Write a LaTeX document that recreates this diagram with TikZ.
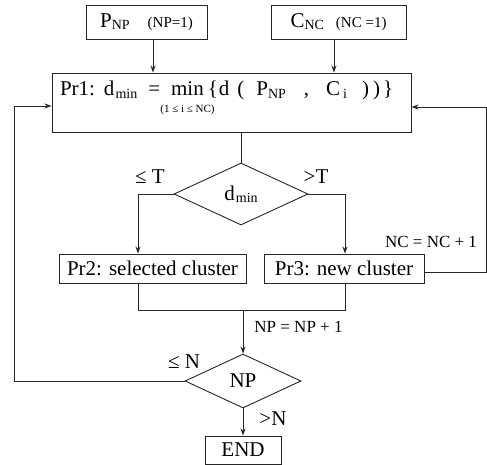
\documentclass[tikz,border=0pt]{standalone}
\usepackage{fontspec}
\setmainfont{Liberation Serif}
\usetikzlibrary{shapes.geometric,arrows.meta,calc}

% text sizes
\newcommand\bigtxt{\fontsize{21}{23}\selectfont}
\newcommand\midtxt{\fontsize{15}{17}\selectfont}
\newcommand\eqtxt{\fontsize{17}{19}\selectfont}
\newcommand\limtxt{\fontsize{11}{12}\selectfont}
% lowered, smaller index text
\newcommand\lowsub[1]{\raisebox{-2.5pt}{\fontsize{14}{14}\selectfont #1}}
% "min" with its range set underneath
\newcommand\minrange{\begin{tabular}[t]{@{}c@{}}min\\[-6pt]\makebox[0pt]{\limtxt(1 ≤ i ≤ NC)}\end{tabular}}

\begin{document}
\begin{tikzpicture}[x=1pt,y=-1pt,
  lineclr/.style={draw=black!85},
  box/.style={lineclr, rectangle, inner sep=0pt, line width=0.9pt, font=\bigtxt},
  decide/.style={lineclr, diamond, inner sep=0pt, line width=0.9pt, font=\bigtxt},
  link/.style={lineclr, line width=0.9pt},
  arr/.style={link, -{Stealth[length=7pt,width=5pt]}},
  lbl/.style={inner sep=0pt, font=\bigtxt},
  eqlbl/.style={inner sep=0pt, font=\eqtxt}]
\useasboundingbox (0,0) rectangle (487,465);

% boxes and decisions
\node[box, minimum width=121pt, minimum height=34pt] (pnp) at (146.5,22)
  {P\lowsub{NP}\hspace{18pt}{\midtxt(NP=1)}};
\node[box, minimum width=135pt, minimum height=34pt] (cnc) at (338.5,22)
  {C\lowsub{NC}\hspace{12pt}{\midtxt(NC =1)}};
\node[box, inner xsep=8pt, text height=23pt, text depth=36pt] (pr1) at (231.5,102.5)
  {\makebox[343pt][l]{Pr1:\hspace{9pt}d\hspace{1pt}\lowsub{min}\hspace{11pt}=\hspace{11pt}\minrange\hspace{4pt}\{\hspace{1pt}d\hspace{8pt}(\hspace{12pt}P\lowsub{NP}\hspace{18pt},\hspace{17pt}C\hspace{3pt}\lowsub{i}\hspace{15pt})\hspace{4pt})\hspace{3pt}\}}};
\node[decide, minimum width=134pt, minimum height=62pt] (d1) at (241,194)
  {d\hspace{1pt}\lowsub{min}};
\node[box, minimum width=187pt, minimum height=29pt] (pr2) at (152.5,268.5)
  {Pr2: selected cluster};
\node[box, minimum width=160pt, minimum height=29pt] (pr3) at (344,268.5)
  {Pr3: new cluster};
\node[decide, minimum width=116pt, minimum height=54pt] (np) at (243,381) {NP};
\node[box, minimum width=76pt, minimum height=28pt] (end) at (243,450) {END};

% connector bends
\coordinate (ax1) at (153,0);
\coordinate (ax2) at (334,0);
\coordinate (lb) at (138,0);
\coordinate (rb) at (345,0);
\coordinate (jl) at (138,310);
\coordinate (jr) at (345,310);
\coordinate (rr) at (0,272);
\coordinate (rloop) at (486,107);
\coordinate (lloop) at (14,106);

% connectors
\draw[arr] (pnp.south -| ax1) -- (pr1.north -| ax1);
\draw[arr] (cnc.south -| ax2) -- (pr1.north -| ax2);
\draw[link] (pr1.south -| d1.north) -- (d1.north);
\draw[arr] (d1.west) -| (pr2.north -| lb);
\draw[arr] (d1.east) -| (pr3.north -| rb);
\draw[arr] (pr3.east |- rr) -| (rloop) -- (pr1.east |- rloop);
\draw[link] (pr2.south -| jl) -- (jl) -- (jr) -- (pr3.south -| jr);
\draw[arr] (jl -| np.north) -- (np.north);
\draw[arr] (np.west) -| (lloop) -- (pr1.west |- lloop);
\draw[arr] (np.south) -- (end.north);

% branch labels
\node[lbl] (le1) at (150,177) {≤ T};
\node[lbl] (gt1) at (316,177) {>T};
\node[eqlbl] (ncinc) at (431,242) {NC = NC + 1};
\node[eqlbl] (npinc) at (298.5,327) {NP = NP + 1};
\node[lbl] (le2) at (184,362) {≤ N};
\node[lbl] (gt2) at (273,419) {>N};
\end{tikzpicture}
\end{document}
